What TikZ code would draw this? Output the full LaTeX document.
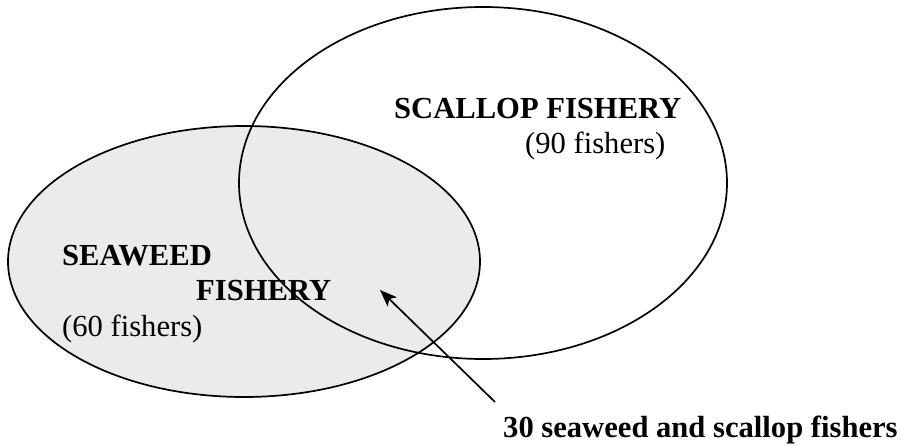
\documentclass[tikz,border=0pt]{standalone}
\usepackage{fontspec}
\setmainfont{Liberation Serif}
\definecolor{seaweedgray}{RGB}{235,235,235}
\usepackage{tikz}
\usetikzlibrary{shapes,arrows,arrows.meta,positioning}
\tikzset{
  fishery/.style={ellipse, draw=black, line width=1.7pt, inner sep=0pt, outer sep=0pt},
  bigname/.style={anchor=base west, inner sep=0pt, font=\fontsize{30.6}{36}\selectfont\bfseries},
  headcount/.style={anchor=base west, inner sep=0pt, font=\fontsize{30.6}{36}\selectfont},
}

\begin{document}
\begin{tikzpicture}[x=1pt, y=-1pt]
    \useasboundingbox (0,0) rectangle (901,446);
    % the two fisheries
    \node[fishery, fill=seaweedgray, minimum width=472pt, minimum height=271pt] (seaweed) at (244,261.5) {};
    \node[fishery, minimum width=488pt, minimum height=352pt] (scallop) at (483,183) {};
    % names and counts
    \node[bigname] (scallopname) at (394,119) {SCALLOP FISHERY};
    \node[headcount] (scallopcount) at (525,154) {(90 fishers)};
    \node[bigname] (seaweedname) at (62,265) {SEAWEED};
    \node[bigname] (seaweedname2) at (196,300) {FISHERY};
    \node[headcount] (seaweedcount) at (62,336) {(60 fishers)};
    \node[bigname] (bothcount) at (503,437) {30 seaweed and scallop fishers};
    % arrow into the overlap
    \coordinate (tail) at (495,402);
    \coordinate (overlap) at (380,290);
    \draw[line width=1.7pt, -{Stealth[length=17pt, width=13pt, inset=4pt]}] (tail) -- (overlap);
\end{tikzpicture}
\end{document}
